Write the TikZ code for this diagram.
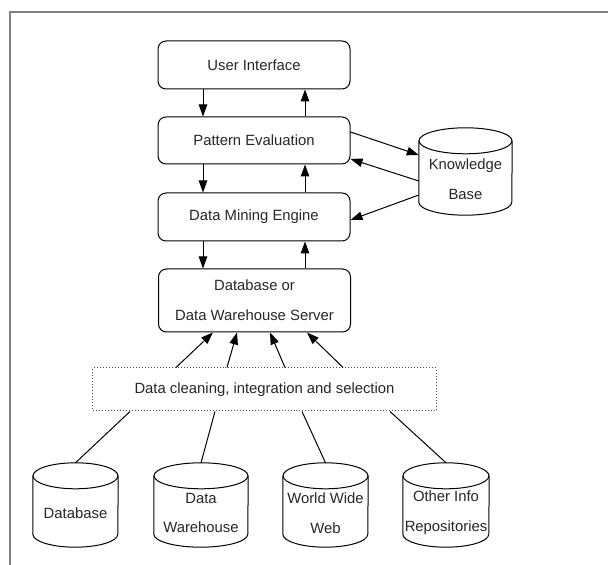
\documentclass[tikz,border=0pt]{standalone}
\usepackage{fontspec}
\setmainfont{Liberation Sans}
\usetikzlibrary{arrows.meta}

% drum-shaped store: name, centre x, centre y, width, height, text
\newcommand\drumstore[6]{%
  \node[minimum width=#4bp, minimum height=#5bp, inner sep=0pt] (#1) at (#2,#3) {};
  \draw[link] ([yshift=-13bp]#1.north west) -- ([yshift=13bp]#1.south west)
     arc[start angle=180, end angle=360, x radius=#4/2, y radius=13]
     -- ([yshift=-13bp]#1.north east);
  \draw[link] ([yshift=-13bp]#1.north) ellipse[x radius=#4/2, y radius=13];
  \node[lbl, align=center, inner sep=0pt] at ([yshift=-8bp]#1.center) {#6};
}

\begin{document}
\begin{tikzpicture}[x=1bp, y=1bp,
  lbl/.style={font=\fontsize{14.9}{30}\selectfont, text=black!85},
  stage/.style={draw, rounded corners=8bp, line width=1bp, minimum width=192bp,
                lbl, align=center, inner sep=0pt},
  arr/.style={line width=1bp, -{Triangle[length=12bp, width=8.5bp]}},
  link/.style={line width=1bp}
]
\useasboundingbox (0,0) rectangle (608,565);

% outer frame
\draw[black!50, line width=1.5bp] (10,0) -- (10,553) -- (608,553);

% processing stages
\node[stage, minimum height=48bp] (ui)  at (254,500)   {User Interface};
\node[stage, minimum height=47bp] (pe)  at (254,424.5) {Pattern Evaluation};
\node[stage, minimum height=48bp] (dme) at (254,348)   {Data Mining Engine};
\node[stage, minimum height=63bp] (dbs) at (254.5,264.5) {Database or\\Data Warehouse Server};
\node[draw=black!70, dotted, line width=1bp, minimum width=343bp, minimum height=43bp, lbl]
     (clean) at (264.5,175.5) {Data cleaning, integration and selection};

% data stores
\drumstore{kb}{465.5}{393.5}{93}{87}{Knowledge\\Base}
\drumstore{db}{75.5}{60}{85}{84}{Database}
\drumstore{dw}{201}{60}{94}{84}{Data\\Warehouse}
\drumstore{www}{325.5}{60}{85}{84}{World Wide\\Web}
\drumstore{oir}{446}{60}{86}{84}{Other Info\\Repositories}

% vertical flow between stages
\coordinate (cl) at (203,0);
\coordinate (cr) at (305,0);
\draw[arr] (ui.south -| cl)  -- (pe.north -| cl);
\draw[arr] (pe.north -| cr)  -- (ui.south -| cr);
\draw[arr] (pe.south -| cl)  -- (dme.north -| cl);
\draw[arr] (dme.north -| cr) -- (pe.south -| cr);
\draw[arr] (dme.south -| cl) -- (dbs.north -| cl);
\draw[arr] (dbs.north -| cr) -- (dme.south -| cr);

% knowledge base links
\draw[arr] ([yshift=8.5bp]pe.east)  -- ([yshift=16.5bp]kb.west);
\draw[arr] ([yshift=-9.5bp]kb.west) -- ([yshift=-18.5bp]pe.east);
\draw[arr] ([yshift=-23.5bp]kb.west) -- ([yshift=-3bp]dme.east);

% cleaning feeds the server
\foreach \a/\b in {-88.5/-41.5, -37.5/-17.5, 20.5/15.5, 78.5/52.5}
  \draw[arr] ([xshift=\a bp]clean.north) -- ([xshift=\b bp]dbs.south);

% sources feed the cleaning step
\draw[link] ([xshift=-134.5bp]clean.south) -- (db.north);
\draw[link] ([xshift=-49.5bp]clean.south)  -- (dw.north);
\draw[link] ([xshift=37.5bp]clean.south)   -- (www.north);
\draw[link] ([xshift=125.5bp]clean.south)  -- (oir.north);
\end{tikzpicture}
\end{document}
